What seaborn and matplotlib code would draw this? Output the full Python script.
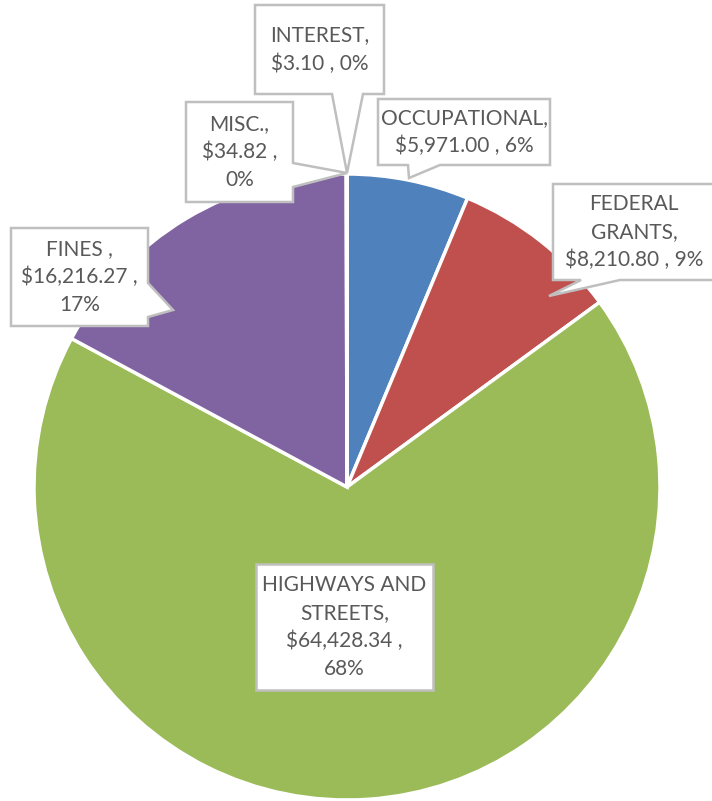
import numpy as np
import matplotlib
matplotlib.use("Agg")
import matplotlib.pyplot as plt
from matplotlib.patches import Polygon
import seaborn as sns

# data
categories = ["OCCUPATIONAL", "FEDERAL GRANTS", "HIGHWAYS AND STREETS", "FINES", "MISC.", "INTEREST"]
amounts = [5971.00, 8210.80, 64428.34, 16216.27, 34.82, 3.10]
colors = ["#4F81BD", "#C0504D", "#9BBB59", "#8064A2", "#4BACC6", "#F79646"]

# how each label is wrapped inside its callout
label_heads = ["OCCUPATIONAL,", "FEDERAL\nGRANTS,", "HIGHWAYS AND\nSTREETS,", "FINES ,", "MISC.,", "INTEREST,"]
label_tails = ["\n{amt} , {pct}", "\n{amt} , {pct}", "\n{amt} ,\n{pct}", "\n{amt} ,\n{pct}",
               "\n{amt} ,\n{pct}", "\n{amt} , {pct}"]

sns.set_theme(style="white")
plt.rcParams['font.family'] = ['Lato', 'DejaVu Sans']

W, H = 712, 801
fig = plt.figure(figsize=(W / 100, H / 100), dpi=100)
ax = fig.add_axes([0, 0, 1, 1])

# pie in pixel space (y flipped for matplotlib)
cx, cy, r = 347, H - 487, 313
ax.pie(amounts, colors=colors, startangle=90, counterclock=False,
       center=(cx, cy), radius=r, frame=True,
       wedgeprops=dict(edgecolor="white", linewidth=2.5))
ax.set_xlim(0, W)
ax.set_ylim(0, H)
ax.set_aspect("equal")
ax.axis("off")

total = sum(amounts)


def callout(box, side, base, tip, text):
    # box = (left, top, right, bottom) in pixel coords, y down
    x0, y0, x1, y1 = box
    pts = [(x0, y0), (x1, y0)]
    if side == "right":
        pts += [(x1, min(base)), tip, (x1, max(base))]
    pts += [(x1, y1)]
    if side == "bottom":
        pts += [(max(base), y1), tip, (min(base), y1)]
    pts += [(x0, y1)]
    pts = [(px, H - py) for px, py in pts]
    ax.add_patch(Polygon(pts, closed=True, facecolor="white", edgecolor="#BFBFBF",
                         linewidth=1.8, zorder=5, clip_on=False))
    ax.text((x0 + x1) / 2, H - (y0 + y1) / 2, text, ha="center", va="center",
            color="#595959", fontsize=15, linespacing=1.5, zorder=6)


# callout boxes: (box, tail side, tail base, tail tip)
boxes = [
    ((378, 99, 550, 165), "bottom", (408, 440), (409, 178)),
    ((553, 184, 715, 280), "bottom", (581, 620), (549, 296)),
    ((256, 564, 433, 690), None, None, None),
    ((11, 228, 148, 326), "right", (283, 317), (173, 310)),
    ((186, 102, 293, 202), "right", (163, 187), (347, 173)),
    ((255, 5, 384, 94), "bottom", (332, 363), (347, 173)),
]

for i, (box, side, base, tip) in enumerate(boxes):
    amt = "${:,.2f}".format(amounts[i])
    pct = "{:.0f}%".format(amounts[i] / total * 100)
    txt = label_heads[i] + label_tails[i].format(amt=amt, pct=pct)
    callout(box, side, base, tip, txt)

fig.savefig("out.png", dpi=100)
